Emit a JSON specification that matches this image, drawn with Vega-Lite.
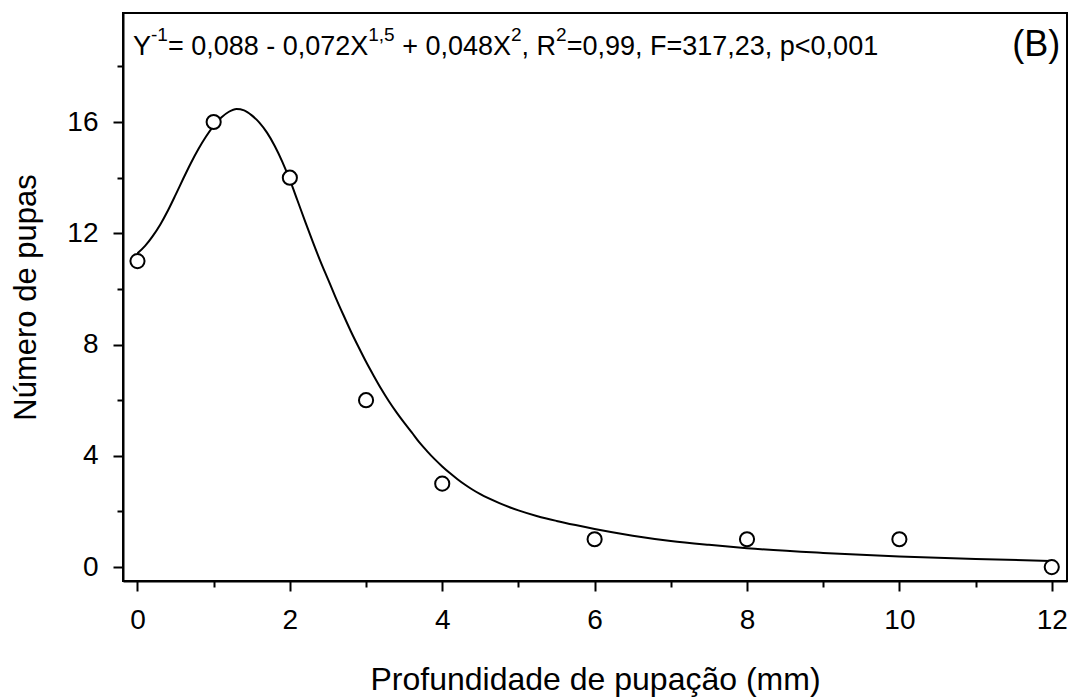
{
  "$schema": "https://vega.github.io/schema/vega-lite/v6.json",
  "width": 944,
  "height": 568,
  "autosize": {"type": "none"},
  "padding": {"left": 123, "top": 13, "right": 13, "bottom": 119},
  "background": "white",
  "config": {
    "font": "Liberation Sans",
    "view": {"stroke": "black", "strokeWidth": 2},
    "text": {"font": "Liberation Sans", "color": "black", "baseline": "alphabetic", "align": "left"},
    "axis": {
      "grid": false,
      "domainColor": "black",
      "domainWidth": 2,
      "tickColor": "black",
      "tickWidth": 2,
      "labelColor": "black",
      "titleColor": "black",
      "labelFont": "Liberation Sans",
      "titleFont": "Liberation Sans",
      "labelFontSize": 28,
      "titleFontSize": 31,
      "titleFontWeight": "normal"
    }
  },
  "datasets": {
    "obs": [
      {"x": 0, "y": 11}, {"x": 1, "y": 16}, {"x": 2, "y": 14}, {"x": 3, "y": 6},
      {"x": 4, "y": 3}, {"x": 6, "y": 1}, {"x": 8, "y": 1}, {"x": 10, "y": 1}, {"x": 12, "y": 0}
    ],
    "fit": [
      {"x": 0, "y": 11.28}, {"x": 0.1, "y": 11.55}, {"x": 0.2, "y": 11.9}, {"x": 0.3, "y": 12.32},
      {"x": 0.4, "y": 12.82}, {"x": 0.5, "y": 13.38}, {"x": 0.6, "y": 13.96}, {"x": 0.7, "y": 14.52},
      {"x": 0.8, "y": 15.03}, {"x": 0.9, "y": 15.48}, {"x": 1.0, "y": 15.86}, {"x": 1.1, "y": 16.16},
      {"x": 1.2, "y": 16.37}, {"x": 1.3, "y": 16.47}, {"x": 1.4, "y": 16.42}, {"x": 1.5, "y": 16.24},
      {"x": 1.6, "y": 15.98}, {"x": 1.7, "y": 15.62}, {"x": 1.8, "y": 15.15}, {"x": 1.9, "y": 14.58},
      {"x": 2.0, "y": 13.92}, {"x": 2.1, "y": 13.18}, {"x": 2.2, "y": 12.43}, {"x": 2.3, "y": 11.7},
      {"x": 2.4, "y": 11.0}, {"x": 2.5, "y": 10.35}, {"x": 2.6, "y": 9.7}, {"x": 2.7, "y": 9.08},
      {"x": 2.8, "y": 8.48}, {"x": 2.9, "y": 7.92}, {"x": 3.0, "y": 7.38}, {"x": 3.1, "y": 6.88},
      {"x": 3.2, "y": 6.4}, {"x": 3.3, "y": 5.96}, {"x": 3.4, "y": 5.56}, {"x": 3.5, "y": 5.19},
      {"x": 3.6, "y": 4.84}, {"x": 3.7, "y": 4.48}, {"x": 3.8, "y": 4.17}, {"x": 3.9, "y": 3.88},
      {"x": 4.0, "y": 3.62}, {"x": 4.1, "y": 3.38}, {"x": 4.2, "y": 3.16}, {"x": 4.3, "y": 2.96},
      {"x": 4.4, "y": 2.78}, {"x": 4.5, "y": 2.62}, {"x": 4.75, "y": 2.3}, {"x": 5.0, "y": 2.04},
      {"x": 5.25, "y": 1.83}, {"x": 5.5, "y": 1.66}, {"x": 5.75, "y": 1.51}, {"x": 6.0, "y": 1.37},
      {"x": 6.5, "y": 1.13}, {"x": 7.0, "y": 0.94}, {"x": 7.5, "y": 0.8}, {"x": 8.0, "y": 0.68},
      {"x": 9.0, "y": 0.51}, {"x": 10.0, "y": 0.38}, {"x": 11.0, "y": 0.29}, {"x": 12.0, "y": 0.22}
    ]
  },
  "layer": [
    {
      "data": {"name": "fit"},
      "mark": {"type": "line", "color": "black", "strokeWidth": 2, "interpolate": "monotone"},
      "encoding": {
        "x": {
          "field": "x",
          "type": "quantitative",
          "scale": {"domain": [-0.19, 12.2], "nice": false, "zero": false},
          "axis": {
            "values": [0, 1, 2, 3, 4, 5, 6, 7, 8, 9, 10, 11, 12],
            "format": "d",
            "labelExpr": "datum.value % 2 === 0 ? datum.label : ''",
            "tickSize": {"condition": {"test": "datum.value % 2 !== 0", "value": 6}, "value": 10},
            "labelPadding": 15,
            "labelOverlap": false,
            "labelFlush": false,
            "title": "Profundidade de pupação (mm)",
            "titleFontSize": 32,
            "titlePadding": 30
          }
        },
        "y": {
          "field": "y",
          "type": "quantitative",
          "scale": {"domain": [-0.5, 19.92], "nice": false, "zero": false},
          "axis": {
            "values": [0, 2, 4, 6, 8, 10, 12, 14, 16, 18],
            "format": "d",
            "labelExpr": "datum.value % 4 === 0 ? datum.label : ''",
            "tickSize": {"condition": {"test": "datum.value % 4 !== 0", "value": 6}, "value": 10},
            "labelPadding": 15,
            "labelOverlap": false,
            "labelFlush": false,
            "title": "Número de pupas",
            "titlePadding": 24
          }
        }
      }
    },
    {
      "data": {"name": "obs"},
      "mark": {"type": "point", "shape": "circle", "filled": true, "fill": "white", "stroke": "black", "strokeWidth": 2, "size": 200, "opacity": 1},
      "encoding": {
        "x": {"field": "x", "type": "quantitative"},
        "y": {"field": "y", "type": "quantitative"}
      }
    },
    {
      "data": {"values": [{"label": "Y"}]},
      "mark": {"type": "text", "fontSize": 27},
      "encoding": {"x": {"datum": -0.0588}, "y": {"datum": 18.4}, "text": {"field": "label", "type": "nominal"}}
    },
    {
      "data": {"values": [{"label": "-1"}]},
      "mark": {"type": "text", "fontSize": 19, "dy": -14},
      "encoding": {"x": {"datum": 0.1773}, "y": {"datum": 18.4}, "text": {"field": "label", "type": "nominal"}}
    },
    {
      "data": {"values": [{"label": "= 0,088 - 0,072X"}]},
      "mark": {"type": "text", "fontSize": 27},
      "encoding": {"x": {"datum": 0.399}, "y": {"datum": 18.4}, "text": {"field": "label", "type": "nominal"}}
    },
    {
      "data": {"values": [{"label": "1,5"}]},
      "mark": {"type": "text", "fontSize": 19, "dy": -14},
      "encoding": {"x": {"datum": 3.0291}, "y": {"datum": 18.4}, "text": {"field": "label", "type": "nominal"}}
    },
    {
      "data": {"values": [{"label": "+ 0,048X"}]},
      "mark": {"type": "text", "fontSize": 27},
      "encoding": {"x": {"datum": 3.4745}, "y": {"datum": 18.4}, "text": {"field": "label", "type": "nominal"}}
    },
    {
      "data": {"values": [{"label": "2"}]},
      "mark": {"type": "text", "fontSize": 19, "dy": -14},
      "encoding": {"x": {"datum": 4.9027}, "y": {"datum": 18.4}, "text": {"field": "label", "type": "nominal"}}
    },
    {
      "data": {"values": [{"label": ", R"}]},
      "mark": {"type": "text", "fontSize": 27},
      "encoding": {"x": {"datum": 5.0413}, "y": {"datum": 18.4}, "text": {"field": "label", "type": "nominal"}}
    },
    {
      "data": {"values": [{"label": "2"}]},
      "mark": {"type": "text", "fontSize": 19, "dy": -14},
      "encoding": {"x": {"datum": 5.4943}, "y": {"datum": 18.4}, "text": {"field": "label", "type": "nominal"}}
    },
    {
      "data": {"values": [{"label": "=0,99, F=317,23, p<0,001"}]},
      "mark": {"type": "text", "fontSize": 27},
      "encoding": {"x": {"datum": 5.6329}, "y": {"datum": 18.4}, "text": {"field": "label", "type": "nominal"}}
    },
    {
      "data": {"values": [{"label": "(B)"}]},
      "mark": {"type": "text", "align": "right", "fontSize": 36},
      "encoding": {"x": {"datum": 12.11}, "y": {"datum": 18.38}, "text": {"field": "label", "type": "nominal"}}
    }
  ]
}
